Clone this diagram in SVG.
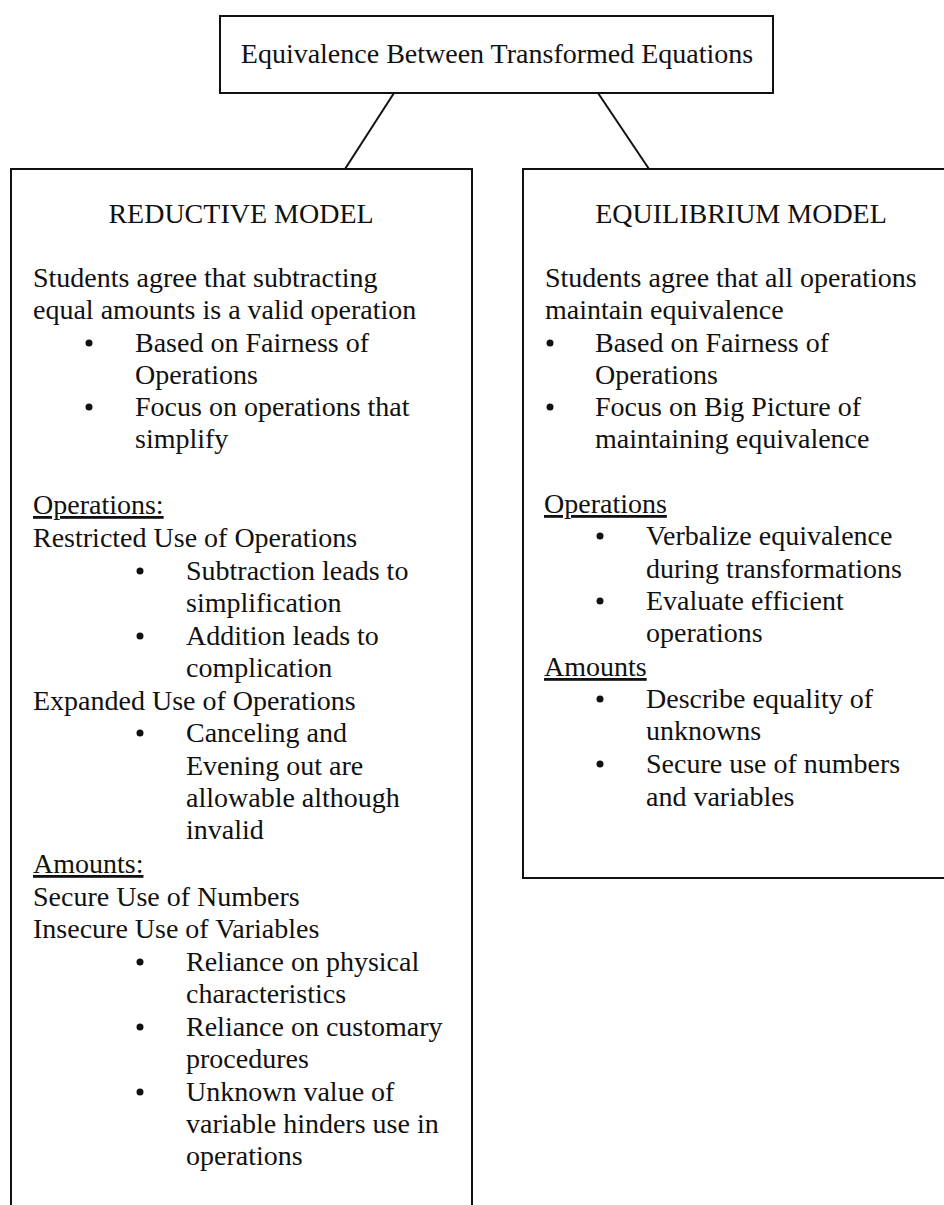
<svg xmlns="http://www.w3.org/2000/svg" width="944" height="1205" viewBox="0 0 944 1205">
<style>
.box{fill:#fff;stroke:#111;stroke-width:2}
.conn{stroke:#111;stroke-width:2;fill:none}
text{font-family:"Liberation Serif","Times New Roman",serif;font-size:28px;fill:#111}
.u{text-decoration:underline}
.b{fill:#111}
</style>
<rect width="944" height="1205" fill="#fff"/>
<g id="connectors">
<line class="conn" x1="394" y1="93" x2="345" y2="169"/>
<line class="conn" x1="598" y1="93" x2="649" y2="169"/>
</g>
<g id="root">
<rect class="box" x="220" y="16" width="553" height="77"/>
<text x="497" y="63" text-anchor="middle">Equivalence Between Transformed Equations</text>
</g>
<g id="reductive">
<rect class="box" x="11" y="169" width="461" height="1050"/>
<text x="241" y="223" text-anchor="middle">REDUCTIVE MODEL</text>
<text x="33" y="287">Students agree that subtracting</text>
<text x="33" y="319">equal amounts is a valid operation</text>
<circle class="b" cx="89" cy="343" r="3.5"/>
<text x="135" y="352">Based on Fairness of</text>
<text x="135" y="384">Operations</text>
<circle class="b" cx="89" cy="407" r="3.5"/>
<text x="135" y="416">Focus on operations that</text>
<text x="135" y="448">simplify</text>
<text x="33" y="514" class="u">Operations:</text>
<text x="33" y="547">Restricted Use of Operations</text>
<circle class="b" cx="140" cy="571" r="3.5"/>
<text x="186" y="580">Subtraction leads to</text>
<text x="186" y="612">simplification</text>
<circle class="b" cx="140" cy="636" r="3.5"/>
<text x="186" y="645">Addition leads to</text>
<text x="186" y="677">complication</text>
<text x="33" y="710">Expanded Use of Operations</text>
<circle class="b" cx="140" cy="733" r="3.5"/>
<text x="186" y="742">Canceling and</text>
<text x="186" y="775">Evening out are</text>
<text x="186" y="807">allowable although</text>
<text x="186" y="839">invalid</text>
<text x="33" y="873" class="u">Amounts:</text>
<text x="33" y="906">Secure Use of Numbers</text>
<text x="33" y="938">Insecure Use of Variables</text>
<circle class="b" cx="140" cy="962" r="3.5"/>
<text x="186" y="971">Reliance on physical</text>
<text x="186" y="1003">characteristics</text>
<circle class="b" cx="140" cy="1027" r="3.5"/>
<text x="186" y="1036">Reliance on customary</text>
<text x="186" y="1068">procedures</text>
<circle class="b" cx="140" cy="1092" r="3.5"/>
<text x="186" y="1101">Unknown value of</text>
<text x="186" y="1133">variable hinders use in</text>
<text x="186" y="1165">operations</text>
</g>
<g id="equilibrium">
<rect class="box" x="523" y="169" width="440" height="709"/>
<text x="741" y="223" text-anchor="middle">EQUILIBRIUM MODEL</text>
<text x="545" y="287">Students agree that all operations</text>
<text x="545" y="319">maintain equivalence</text>
<circle class="b" cx="550" cy="343" r="3.5"/>
<text x="595" y="352">Based on Fairness of</text>
<text x="595" y="384">Operations</text>
<circle class="b" cx="550" cy="407" r="3.5"/>
<text x="595" y="416">Focus on Big Picture of</text>
<text x="595" y="448">maintaining equivalence</text>
<text x="544" y="513" class="u">Operations</text>
<circle class="b" cx="600" cy="536" r="3.5"/>
<text x="646" y="545">Verbalize equivalence</text>
<text x="646" y="578">during transformations</text>
<circle class="b" cx="600" cy="601" r="3.5"/>
<text x="646" y="610">Evaluate efficient</text>
<text x="646" y="642">operations</text>
<text x="544" y="676" class="u">Amounts</text>
<circle class="b" cx="600" cy="699" r="3.5"/>
<text x="646" y="708">Describe equality of</text>
<text x="646" y="740">unknowns</text>
<circle class="b" cx="600" cy="764" r="3.5"/>
<text x="646" y="773">Secure use of numbers</text>
<text x="646" y="806">and variables</text>
</g>
</svg>
